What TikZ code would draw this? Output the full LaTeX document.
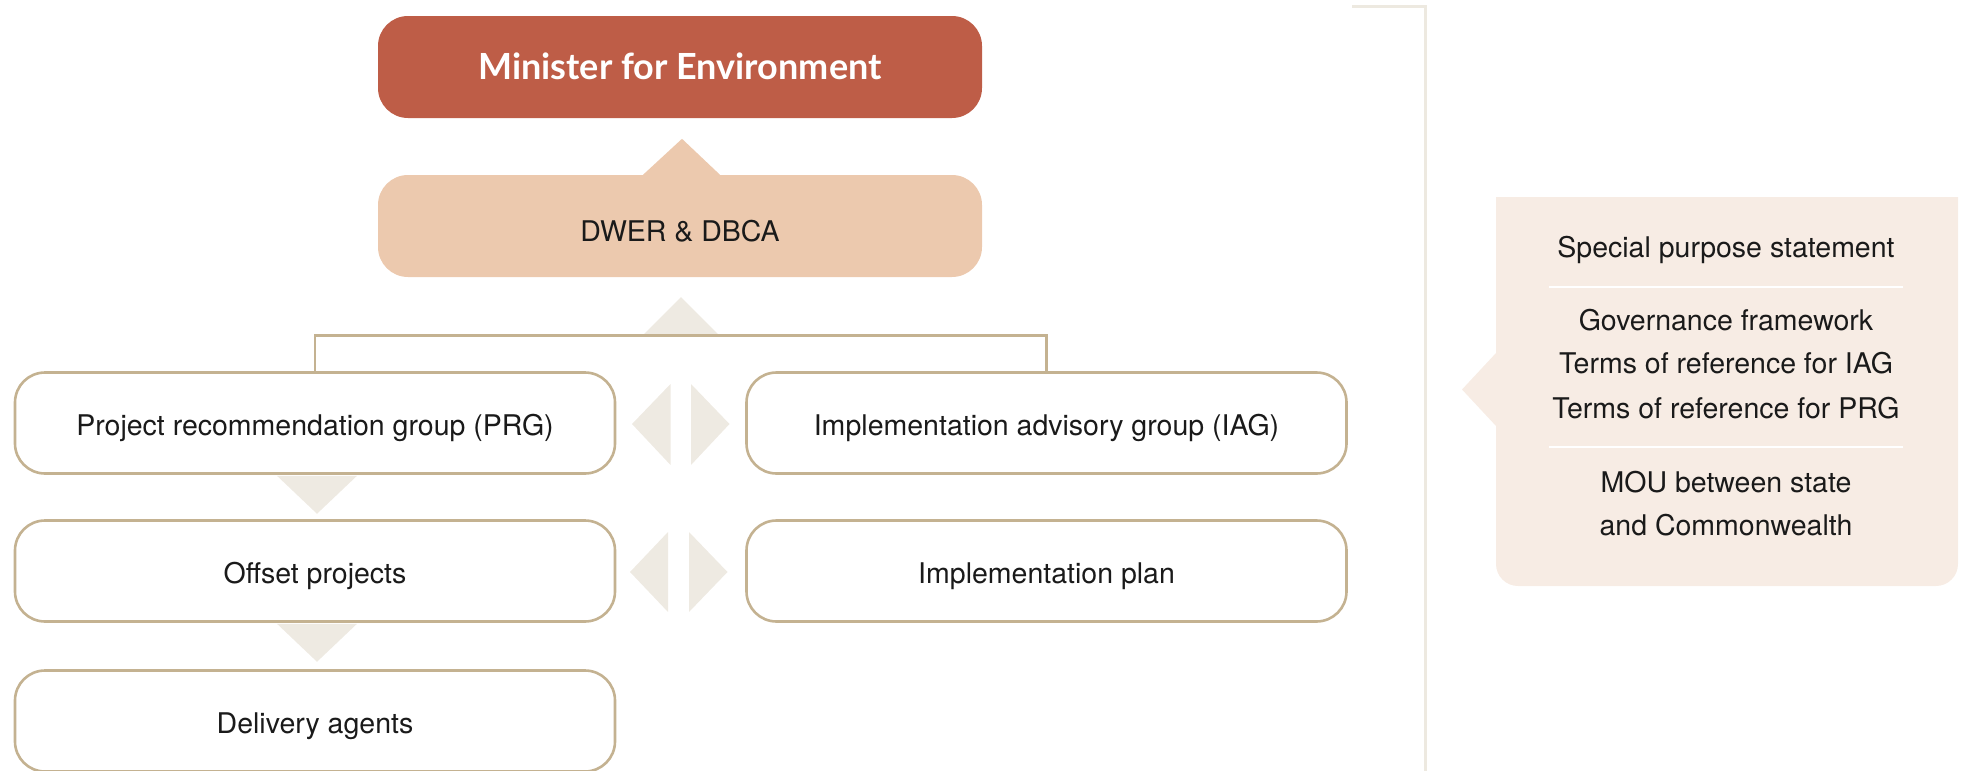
\documentclass[tikz,border=0pt]{standalone}
\usepackage{fontspec}
\setmainfont{TeX Gyre Heros}
\newfontfamily\titlefont{Lato}
\usetikzlibrary{calc}
\definecolor{minfill}{HTML}{BE5D47}
\definecolor{dwerfill}{HTML}{ECC9AE}
\definecolor{boxline}{HTML}{C4B291}
\definecolor{tri}{HTML}{EEEAE2}
\definecolor{panelfill}{HTML}{F7ECE4}
\definecolor{greyline}{HTML}{EDE9E0}
\definecolor{txt}{HTML}{1A1A1A}
\tikzset{
  x=1pt, y=-1pt,
  bodytext/.style={font=\fontsize{28.5}{34}\selectfont, text=txt, text height=25.5pt, text depth=0pt, inner sep=0pt},
  orgbox/.style={bodytext, draw=boxline, line width=2.6pt, fill=white, rounded corners=30pt,
     minimum width=600pt, minimum height=101pt},
  topbox/.style={rounded corners=30pt, minimum width=604pt, minimum height=102pt, inner sep=0pt},
  arrowtri/.style={fill=tri},
  paneltext/.style={font=\fontsize{28.5}{34}\selectfont, text=txt, anchor=base, inner sep=0pt},
}
\begin{document}
\begin{tikzpicture}
\useasboundingbox (0,0) rectangle (1966,771);
\clip (0,0) rectangle (1966,771);
% grey L line
\draw[greyline, line width=3pt] (1352,6) -- (1425,6) -- (1425,775);

% top boxes
\node[topbox, fill=minfill, text=white, font=\titlefont\bfseries\fontsize{36}{42}\selectfont, text height=25pt, text depth=0pt] (min) at (680,67) {Minister for Environment};
\node[topbox, fill=dwerfill, bodytext, text height=31.5pt] (dwer) at (680,226) {DWER \& DBCA};

% organisation boxes
\node[orgbox] (prg) at (315,423) {Project recommendation group (PRG)};
\node[orgbox] (iag) at (1046.5,423) {Implementation advisory group (IAG)};
\node[orgbox] (off) at (315,571) {Offset projects};
\node[orgbox] (plan) at (1046.5,571) {Implementation plan};
\node[orgbox] (del) at (315,721) {Delivery agents};

% up arrow into minister
\fill[dwerfill] ($(dwer.north)+(-37,0)$) -- ($(dwer.north)+(2,-36)$) -- ($(dwer.north)+(40,0)$) -- cycle;

% bracket from DWER
\coordinate (br) at ($(dwer.south)+(1,58)$);
\fill[tri] ($(br)+(-38,0)$) -- ($(br)+(0,-38)$) -- ($(br)+(38,0)$) -- cycle;
\draw[boxline, line width=2.6pt] (prg.north) |- (br) -| (iag.north);

% down arrows
\fill[tri] ($(prg.south)+(-38,1)$) -- ($(prg.south)+(2,39)$) -- ($(prg.south)+(42,1)$) -- cycle;
\fill[tri] ($(off.south)+(-38,1)$) -- ($(off.south)+(2,39)$) -- ($(off.south)+(42,1)$) -- cycle;

% left/right arrows
\fill[tri] (632,424) -- (670.5,384) -- (670.5,465) -- cycle;
\fill[tri] (691,384) -- (729.5,424) -- (691,465) -- cycle;
\fill[tri] (630,572) -- (668,532) -- (668,612) -- cycle;
\fill[tri] (689,532) -- (727.5,572) -- (689,612) -- cycle;

% right panel
\fill[panelfill] (1496,353) -- (1496,197) -- (1958,197)
   [rounded corners=22pt] -- (1958,586) -- (1496,586) [sharp corners] -- (1496,426) -- (1462,389.5) -- cycle;
\draw[white, line width=2.5pt] (1549,287) -- (1903,287);
\draw[white, line width=2.5pt] (1549,447) -- (1903,447);
\node[paneltext] (p1) at (1726,257.5) {Special purpose statement};
\node[paneltext] (p2) at (1726,330.5) {Governance framework};
\node[paneltext] (p3) at (1726,373.5) {Terms of reference for IAG};
\node[paneltext] (p4) at (1726,418.5) {Terms of reference for PRG};
\node[paneltext] (p5) at (1726,492.5) {MOU between state};
\node[paneltext] (p6) at (1726,535.5) {and Commonwealth};
\end{tikzpicture}
\end{document}
